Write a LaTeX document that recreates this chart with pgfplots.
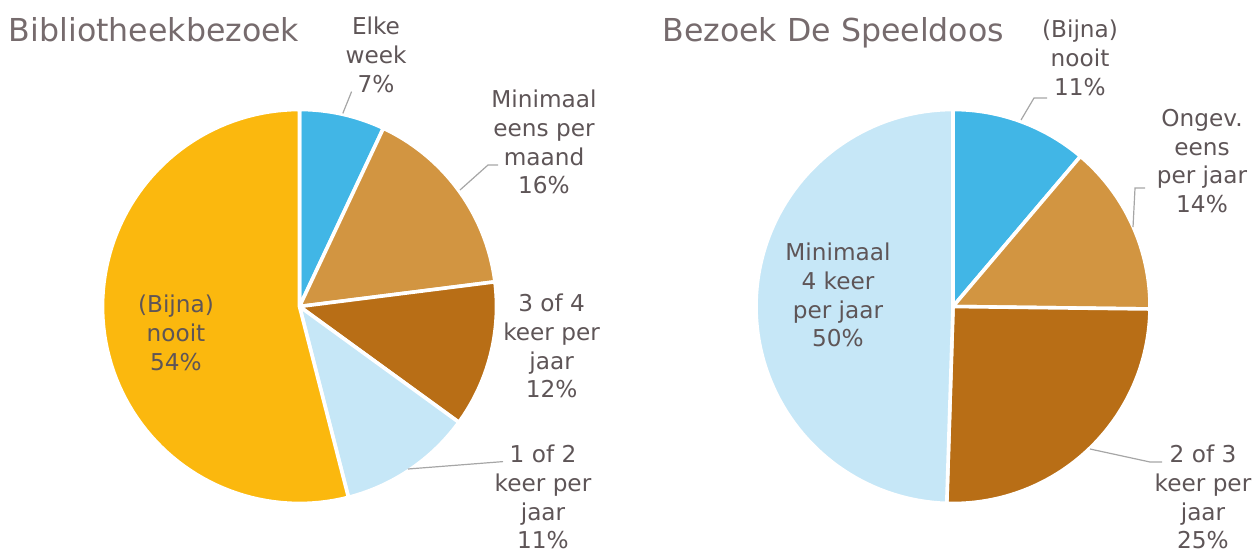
\documentclass[border=0pt]{standalone}
\usepackage{pgfplots}
\pgfplotsset{compat=1.18}
\usepackage{fontspec}
\setmainfont{DejaVu Sans}
\definecolor{cBlue}{HTML}{41B6E6}
\definecolor{cTan}{HTML}{D29541}
\definecolor{cBrown}{HTML}{B86E16}
\definecolor{cLight}{HTML}{C6E7F7}
\definecolor{cYellow}{HTML}{FBB80E}
\definecolor{labc}{HTML}{5E5557}
\definecolor{titc}{HTML}{766B6D}
\definecolor{leadc}{HTML}{A6A6A6}
\newcommand\cum{0}
\newcommand\slice[2]{%
  \pgfmathsetmacro\sA{90-3.6*(\cum+#1)}%
  \pgfmathsetmacro\sB{90-3.6*\cum}%
  \edef\temp{\noexpand\addplot[fill=#2, draw=white, line width=1.8pt, line join=round, domain=\sA:\sB, samples=90] ({cos(x)},{sin(x)}) -- (axis cs:0,0) -- cycle;}%
  \temp
  \pgfmathparse{\cum+#1}\xdef\cum{\pgfmathresult}%
}
\tikzset{lab/.style={align=center, text=labc, font=\fontsize{11.6}{14.4}\selectfont, inner sep=0pt},
  tit/.style={anchor=base west, text=titc, font=\fontsize{15.8}{18}\selectfont, inner sep=0pt},
  lead/.style={draw=leadc, line width=0.6pt}}
\pgfplotsset{pie/.style={anchor=center, width=197pt, height=197pt, scale only axis, hide axis, xmin=-1, xmax=1, ymin=-1, ymax=1, clip=false}}
\begin{document}
\begin{tikzpicture}[x=1pt,y=1pt]
\path[use as bounding box] (0,0) rectangle (628,276);
% Bibliotheekbezoek
\begin{axis}[pie, at={(149.75pt,122.75pt)}]
\xdef\cum{0}
\slice{7}{cBlue}
\slice{16}{cTan}
\slice{12}{cBrown}
\slice{11}{cLight}
\slice{54}{cYellow}
\end{axis}
% Bezoek De Speeldoos
\begin{axis}[pie, at={(476.5pt,122.75pt)}]
\xdef\cum{0}
\slice{11.2}{cBlue}
\slice{14.0}{cTan}
\slice{25.3}{cBrown}
\slice{49.5}{cLight}
\end{axis}
% titles
\node[tit] at (4.3,255.2) {Bibliotheekbezoek};
\node[tit] at (331,255.2) {Bezoek De Speeldoos};
% left labels
\node[lab] at (188,248.5) {Elke\\week\\7\%};
\draw[lead] (175.8,230.2) -- (171.4,219.3);
\node[lab] at (272,205) {Minimaal\\eens per\\maand\\16\%};
\draw[lead] (230,181) -- (244,193.5) -- (249,193.5);
\node[lab] at (275.8,103) {3 of 4\\keer per\\jaar\\12\%};
\node[lab] at (271.5,27.5) {1 of 2\\keer per\\jaar\\11\%};
\draw[lead] (204,41.5) -- (251.5,45.2);
\node[lab] at (88,109.5) {(Bijna)\\nooit\\54\%};
% right labels
\node[lab] at (540,247) {(Bijna)\\nooit\\11\%};
\draw[lead] (510.5,216) -- (517,227) -- (523.5,227);
\node[lab] at (601,195.5) {Ongev.\\eens\\per jaar\\14\%};
\draw[lead] (566.5,162.5) -- (567.5,182) -- (572.5,182);
\node[lab] at (601.5,27.5) {2 of 3\\keer per\\jaar\\25\%};
\draw[lead] (545,51.5) -- (575,45) -- (581,45);
\node[lab] at (419,128.5) {Minimaal\\4 keer\\per jaar\\50\%};
\end{tikzpicture}
\end{document}
